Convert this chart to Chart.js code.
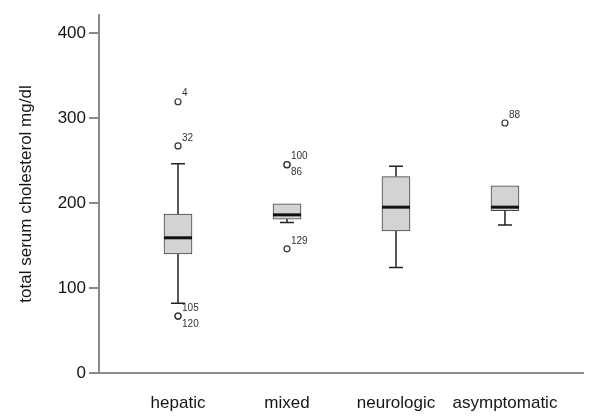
<!DOCTYPE html>
<html>
<head>
<meta charset="utf-8">
<script src="https://cdn.jsdelivr.net/npm/chart.js@4.4.0/dist/chart.umd.min.js"></script>
<style>
    html, body { margin: 0; padding: 0; background: #fff; }
</style>
</head>
<body>
<canvas id="cholChart" width="600" height="420"></canvas>
<script>
// box plot data (mg/dl)
const categories = ['hepatic', 'mixed', 'neurologic', 'asymptomatic'];
const whiskerLow = [82, 177, 124, 174];
const q1 = [140, 181, 167, 191];
const medians = [159, 186, 195, 195];
const q3 = [187, 199, 231, 220];
const whiskerHigh = [246, 199, 243, 220];

// outliers: category index, value, case id
const outlierCat = [0, 0, 0, 0, 1, 1, 1, 3];
const outlierVal = [319, 267, 67, 67, 245, 245, 146, 294];
const outlierIds = ['4', '32', '105', '120', '100', '86', '129', '88'];

const yTicks = [0, 100, 200, 300, 400];

const textColor = '#151515';
const axisColor = '#8a8a8a';

// whiskers, caps, medians and case labels
const boxPartsPlugin = {
    id: 'boxParts',
    afterDatasetsDraw(chart) {
        const ctx = chart.ctx;
        const x = chart.scales.x;
        const y = chart.scales.y;
        ctx.save();
        ctx.strokeStyle = '#222';
        categories.forEach((c, i) => {
            const cx = x.getPixelForValue(i);
            const half = 14;
            const cap = 7;
            ctx.lineWidth = 1.5;
            // upper whisker
            if (whiskerHigh[i] > q3[i]) {
                ctx.beginPath();
                ctx.moveTo(cx, y.getPixelForValue(q3[i]));
                ctx.lineTo(cx, y.getPixelForValue(whiskerHigh[i]));
                ctx.moveTo(cx - cap, y.getPixelForValue(whiskerHigh[i]));
                ctx.lineTo(cx + cap, y.getPixelForValue(whiskerHigh[i]));
                ctx.stroke();
            }
            // lower whisker
            if (whiskerLow[i] < q1[i]) {
                ctx.beginPath();
                ctx.moveTo(cx, y.getPixelForValue(q1[i]));
                ctx.lineTo(cx, y.getPixelForValue(whiskerLow[i]));
                ctx.moveTo(cx - cap, y.getPixelForValue(whiskerLow[i]));
                ctx.lineTo(cx + cap, y.getPixelForValue(whiskerLow[i]));
                ctx.stroke();
            }
            // median
            ctx.lineWidth = 3;
            ctx.strokeStyle = '#111';
            ctx.beginPath();
            ctx.moveTo(cx - half, y.getPixelForValue(medians[i]));
            ctx.lineTo(cx + half, y.getPixelForValue(medians[i]));
            ctx.stroke();
            ctx.strokeStyle = '#222';
        });

        // case numbers next to outliers
        ctx.font = '10px Arial, "Liberation Sans", sans-serif';
        ctx.fillStyle = '#333';
        ctx.textAlign = 'left';
        ctx.textBaseline = 'middle';
        outlierVal.forEach((v, i) => {
            let below = false;
            for (let j = 0; j < i; j++) {
                if (outlierCat[j] === outlierCat[i] && outlierVal[j] === v) below = true;
            }
            const px = x.getPixelForValue(outlierCat[i]) + 4;
            const py = y.getPixelForValue(v) + (below ? 8 : -8);
            ctx.fillText(outlierIds[i], px, py);
        });
        ctx.restore();
    }
};

const ctx = document.getElementById('cholChart').getContext('2d');
const cholChart = new Chart(ctx, {
    type: 'bar',
    data: {
        datasets: [{
            type: 'bar',
            data: categories.map((c, i) => ({ x: i, y: [q1[i], q3[i]] })),
            backgroundColor: '#d3d3d3',
            borderColor: '#444',
            borderWidth: 1,
            borderSkipped: false,
            barThickness: 28
        }, {
            type: 'scatter',
            data: outlierVal.map((v, i) => ({ x: outlierCat[i], y: v })),
            pointRadius: 3,
            pointBackgroundColor: '#fff',
            pointBorderColor: '#333',
            pointBorderWidth: 1.2
        }]
    },
    options: {
        responsive: false,
        animation: false,
        devicePixelRatio: 1,
        layout: { padding: { top: 15, right: 17, bottom: 0, left: 0 } },
        plugins: {
            legend: { display: false },
            tooltip: { enabled: false }
        },
        scales: {
            x: {
                type: 'linear',
                offset: false,
                min: -0.725,
                max: 3.716,
                afterBuildTicks: scale => {
                    scale.ticks = categories.map((c, i) => ({ value: i }));
                },
                afterFit: scale => { scale.height = 47; },
                ticks: {
                    callback: value => categories[value],
                    font: { family: 'Arial, "Liberation Sans", sans-serif', size: 17 },
                    color: textColor,
                    padding: 20,
                    maxRotation: 0
                },
                grid: { display: false, drawTicks: false, offset: false },
                border: { color: axisColor, width: 2 }
            },
            y: {
                min: 0,
                max: 421,
                afterBuildTicks: scale => {
                    scale.ticks = yTicks.map(v => ({ value: v }));
                },
                afterFit: scale => { scale.width = 99; },
                ticks: {
                    font: { family: 'Arial, "Liberation Sans", sans-serif', size: 17 },
                    color: textColor,
                    padding: 3
                },
                grid: { drawOnChartArea: false, color: axisColor, lineWidth: 2, tickLength: 10 },
                border: { color: axisColor, width: 2 },
                title: {
                    display: true,
                    text: 'total serum cholesterol mg/dl',
                    font: { family: 'Arial, "Liberation Sans", sans-serif', size: 17 },
                    color: textColor,
                    padding: { top: 16, bottom: 0 }
                }
            }
        }
    },
    plugins: [boxPartsPlugin]
});
</script>
</body>
</html>
